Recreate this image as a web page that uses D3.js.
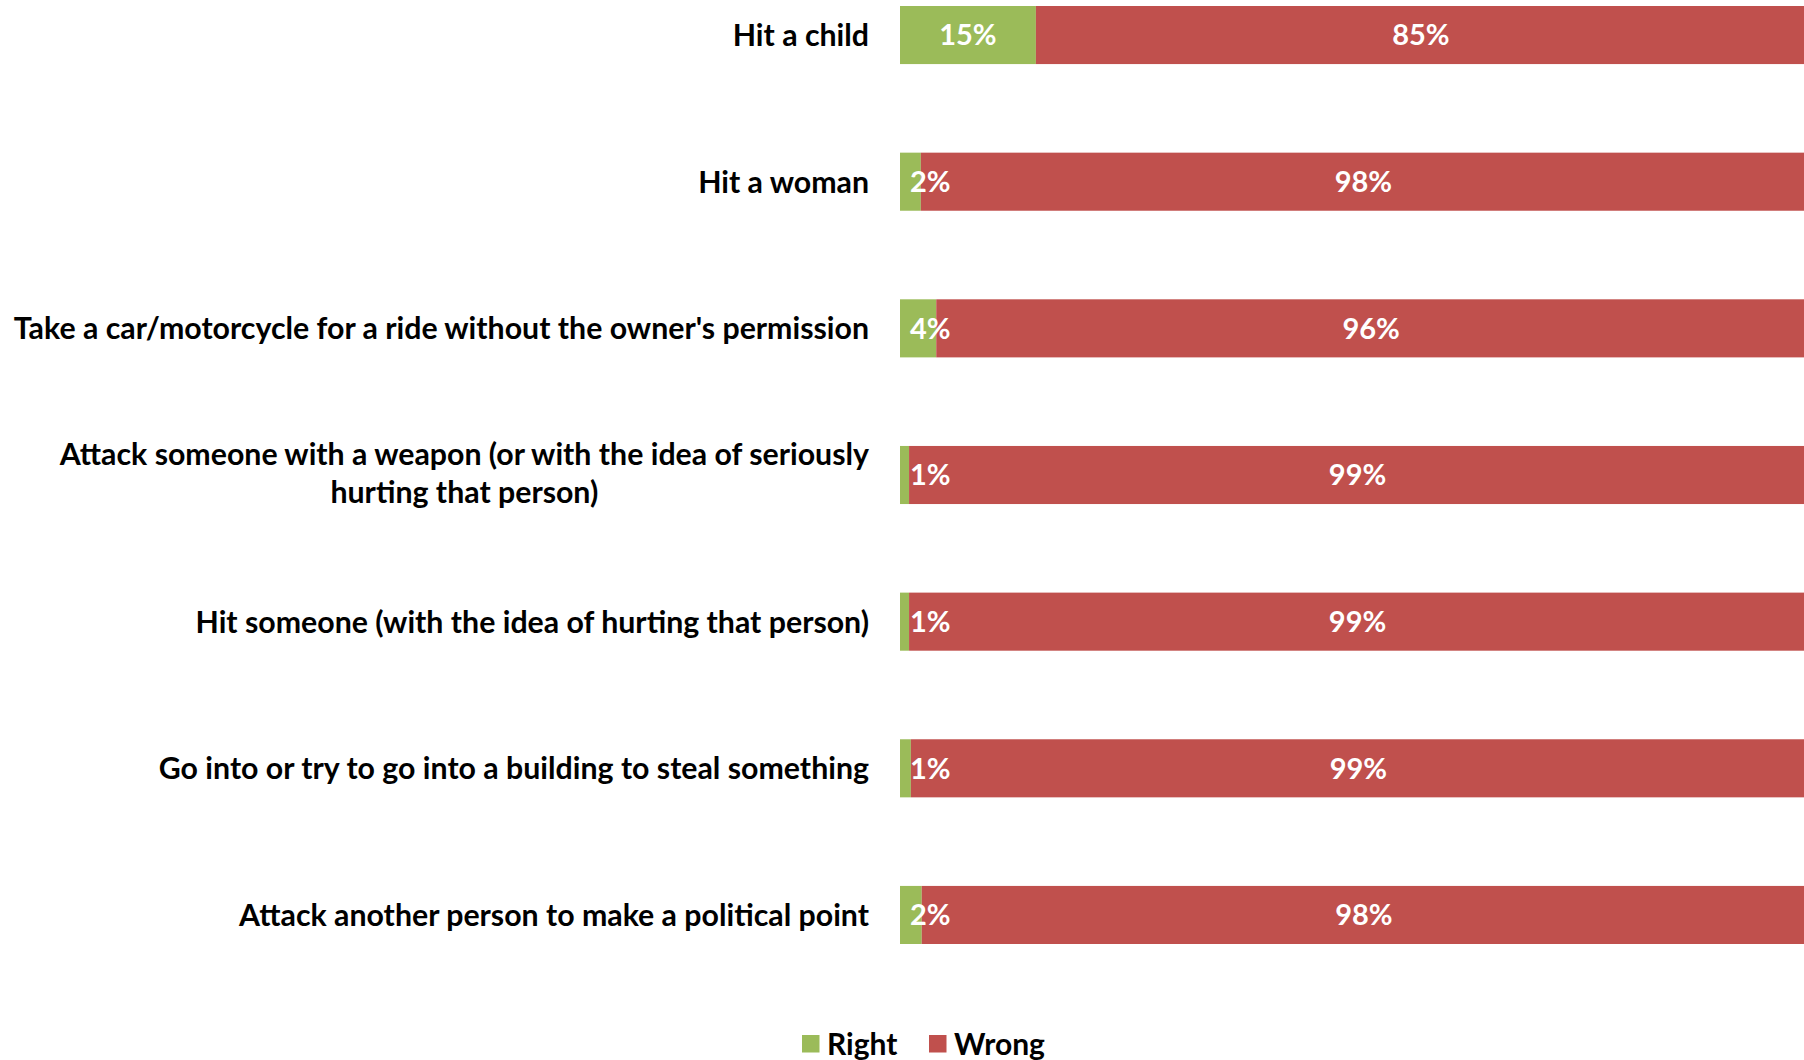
<!DOCTYPE html>
<html>
<head>
<meta charset="utf-8">
<script src="https://cdn.jsdelivr.net/npm/d3@7"></script>
<style>
  body { margin: 0; background: #fff; }
  text { font-family: Lato, "Open Sans", sans-serif; font-weight: bold; }
</style>
</head>
<body>
<svg id="chart" width="1804" height="1060"></svg>
<script>
// categories, top to bottom
const categories = [
  ["Hit a child"],
  ["Hit a woman"],
  ["Take a car/motorcycle for a ride without the owner's permission"],
  ["Attack someone with a weapon (or with the idea of seriously", "hurting that person)"],
  ["Hit someone (with the idea of hurting that person)"],
  ["Go into or try to go into a building to steal something"],
  ["Attack another person to make a political point"]
];
const rightValues = [15, 2.3, 4.0, 1.0, 1.0, 1.2, 2.4];
const wrongValues = [85, 97.7, 96.0, 99.0, 99.0, 98.8, 97.6];
const seriesNames = ["Right", "Wrong"];
const seriesColors = ["#9BBB59", "#C0504D"];

const svg = d3.select("#chart");

const x = d3.scaleLinear().domain([0, 100]).range([900, 1806]);
const y = d3.scaleBand()
  .domain(d3.range(categories.length))
  .range([6, 944])
  .paddingInner(0.604)
  .paddingOuter(0);

const rows = categories.map((c, i) => ({
  i,
  lines: c,
  segs: [
    {s: 0, x0: 0, x1: rightValues[i], v: rightValues[i]},
    {s: 1, x0: rightValues[i], x1: rightValues[i] + wrongValues[i], v: wrongValues[i]}
  ]
}));

// bars
const rowG = svg.append("g").selectAll("g")
  .data(rows).enter()
  .append("g");

rowG.selectAll("rect")
  .data(d => d.segs.map(s => ({...s, i: d.i})))
  .enter().append("rect")
  .attr("x", d => x(d.x0))
  .attr("y", d => y(d.i))
  .attr("width", d => x(d.x1) - x(d.x0))
  .attr("height", y.bandwidth())
  .attr("fill", d => seriesColors[d.s]);

// data labels (small segments: pushed right so they start just inside the bar)
rowG.selectAll("text.val")
  .data(d => d.segs.map(s => ({...s, i: d.i})))
  .enter().append("text")
  .attr("class", "val")
  .attr("y", d => y(d.i) + y.bandwidth() / 2)
  .attr("dy", "0.36em")
  .attr("text-anchor", "middle")
  .attr("fill", "#fff")
  .style("font-size", "29px")
  .text(d => Math.round(d.v) + "%")
  .attr("x", function(d) {
    let cx = (x(d.x0) + x(d.x1)) / 2,
      w = this.getComputedTextLength(),
      minLeft = x(d.x0) + 10;
    return cx - w / 2 < minLeft ? minLeft + w / 2 : cx;
  });

// category labels
const labelRight = 869;
rowG.each(function(d) {
  const g = d3.select(this),
    cy = y(d.i) + y.bandwidth() / 2,
    lh = 38;
  if (d.lines.length == 1) {
    g.append("text")
      .attr("x", labelRight)
      .attr("y", cy)
      .attr("dy", "0.36em")
      .attr("text-anchor", "end")
      .attr("fill", "#000")
      .style("font-size", "30.3px")
      .text(d.lines[0]);
  } else {
    const top = cy - 21;
    const t = g.append("text")
      .attr("text-anchor", "middle")
      .attr("fill", "#000")
      .style("font-size", "30.3px");
    const first = t.append("tspan").attr("y", top).attr("dy", "0.36em").text(d.lines[0]);
    const w = first.node().getComputedTextLength();
    first.attr("x", labelRight - w / 2);
    d.lines.slice(1).forEach((ln, k) => {
      t.append("tspan")
        .attr("x", labelRight - w / 2)
        .attr("y", top + lh * (k + 1))
        .attr("dy", "0.36em")
        .text(ln);
    });
  }
});

// legend
const legend = svg.append("g");
const legendX = [802, 929];
seriesNames.forEach((name, k) => {
  legend.append("rect")
    .attr("x", legendX[k])
    .attr("y", 1035)
    .attr("width", 17.5)
    .attr("height", 17.5)
    .attr("fill", seriesColors[k]);
  legend.append("text")
    .attr("x", legendX[k] + 25)
    .attr("y", 1044)
    .attr("dy", "0.36em")
    .attr("fill", "#000")
    .style("font-size", "30px")
    .text(name);
});
</script>
</body>
</html>
